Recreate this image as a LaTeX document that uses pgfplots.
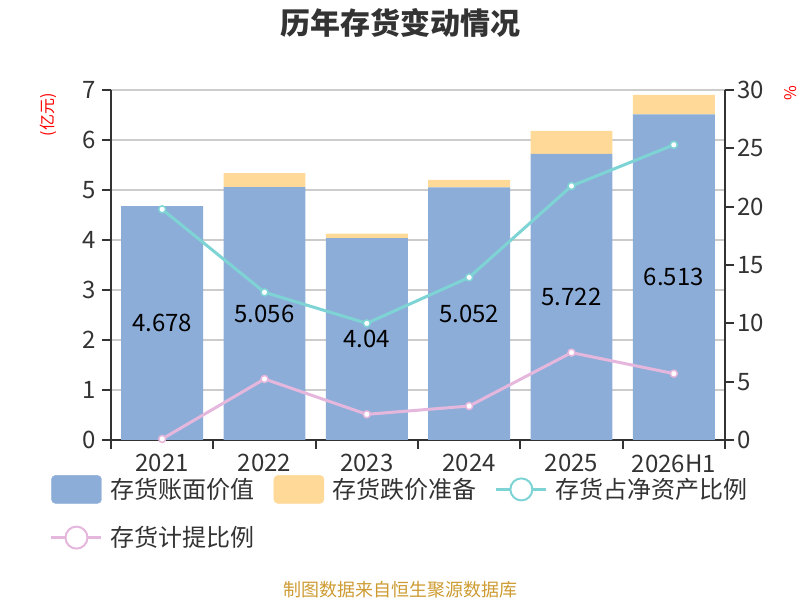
\documentclass[border=0pt]{standalone}
\usepackage{fontspec}
\setmainfont{Noto Sans CJK SC}
\usepackage{pgfplots}
\pgfplotsset{compat=1.18}
\definecolor{barblue}{RGB}{141,173,217}
\definecolor{baryellow}{RGB}{255,217,151}
\definecolor{cyanc}{RGB}{126,212,212}
\definecolor{pinkc}{RGB}{230,183,220}
\definecolor{gridc}{RGB}{204,204,204}
\definecolor{axc}{RGB}{51,51,51}
\definecolor{srcc}{RGB}{205,155,50}
\pgfplotsset{
  common/.style={
    at={(111bp,160bp)}, anchor=south west,
    scale only axis, width=614bp, height=350bp,
    xmin=-0.5, xmax=5.5,
    axis line style={draw=axc, line width=2bp, -},
    tick style={draw=axc, line width=2bp},
    tick align=outside, major tick length=9bp,
    ticklabel style={font=\fontsize{24bp}{28bp}\selectfont, text=axc},
    /pgf/number format/assume math mode=true,
    clip=false,
  }
}
\begin{document}
\begin{tikzpicture}
\path[use as bounding box] (0,0) rectangle (800bp,600bp);
\begin{axis}[common,
  ymin=0, ymax=7, ytick={0,1,2,3,4,5,6,7},
  axis y line*=left, axis x line*=bottom,
  yticklabel style={xshift=-3bp},
  xticklabel style={yshift=-2bp},
  xtick={-0.5,0.5,1.5,2.5,3.5,4.5,5.5}, x tick label as interval,
  xticklabels={2021,2022,2023,2024,2025,2026H1},
  ymajorgrids, grid style={draw=gridc, line width=1.5bp},
  ybar stacked, bar width=0.8,
]
\addplot[fill=barblue, draw=none] coordinates {(0,4.678)(1,5.056)(2,4.04)(3,5.052)(4,5.722)(5,6.513)};
\addplot[fill=baryellow, draw=none] coordinates {(0,0)(1,0.28)(2,0.09)(3,0.15)(4,0.46)(5,0.39)};
\end{axis}
\begin{axis}[common, hide axis, ymin=0, ymax=7]
\addplot[draw=none, mark=none, nodes near coords, point meta=explicit symbolic,
  every node near coord/.append style={anchor=center, font=\fontsize{24bp}{28bp}\selectfont, text=black}]
  coordinates {(0,2.339)[4.678](1,2.528)[5.056](2,2.02)[4.04](3,2.526)[5.052](4,2.861)[5.722](5,3.257)[6.513]};
\end{axis}
\begin{axis}[common,
  ymin=0, ymax=30, ytick={0,5,10,15,20,25,30},
  axis y line*=right, axis x line=none,
  legend columns=3, legend cell align=left,
  legend style={at={(-0.0993,-0.1)}, anchor=north west, draw=none, fill=none, inner sep=0pt,
    font=\fontsize{24bp}{28bp}\selectfont, text=axc, row sep=22bp,
    nodes={inner sep=0pt},
    /tikz/every odd column/.append style={column sep=8bp},
    /tikz/every even column/.append style={column sep=19bp}},
]
\addlegendimage{legend image code/.code={\fill[barblue, rounded corners=4bp] (0bp,-14bp) rectangle (50bp,14bp);}}
\addlegendentry{存货账面价值}
\addlegendimage{legend image code/.code={\fill[baryellow, rounded corners=4bp] (0bp,-14bp) rectangle (50bp,14bp);}}
\addlegendentry{存货跌价准备}
\addplot[cyanc, line width=3bp, mark=*, mark size=3.5bp, mark options={fill=white, draw=cyanc, line width=1.5bp},
  legend image code/.code={\draw[cyanc, line width=2.5bp] (0bp,0bp)--(50bp,0bp); \draw[cyanc, line width=2bp, fill=white] (25bp,0bp) circle (11bp);}]
  coordinates {(0,19.77)(1,12.66)(2,10.0)(3,13.94)(4,21.77)(5,25.3)};
\addlegendentry{存货占净资产比例}
\addplot[pinkc, line width=3bp, mark=*, mark size=3.5bp, mark options={fill=white, draw=pinkc, line width=1.5bp},
  legend image code/.code={\draw[pinkc, line width=2.5bp] (0bp,0bp)--(50bp,0bp); \draw[pinkc, line width=2bp, fill=white] (25bp,0bp) circle (11bp);}]
  coordinates {(0,0.09)(1,5.23)(2,2.2)(3,2.91)(4,7.49)(5,5.69)};
\addlegendentry{存货计提比例}
\end{axis}
\node[font=\fontsize{30bp}{34bp}\selectfont\bfseries, text=axc] at (400bp,577bp) {历年存货变动情况};
\node[rotate=90, text=red, font=\fontsize{16bp}{18bp}\selectfont] at (48bp,485bp) {(亿元)};
\node[rotate=90, text=red, font=\fontsize{16bp}{18bp}\selectfont] at (791bp,507bp) {\%};
\node[text=srcc, font=\fontsize{18bp}{20bp}\selectfont] at (400bp,10bp) {制图数据来自恒生聚源数据库};
\end{tikzpicture}
\end{document}
